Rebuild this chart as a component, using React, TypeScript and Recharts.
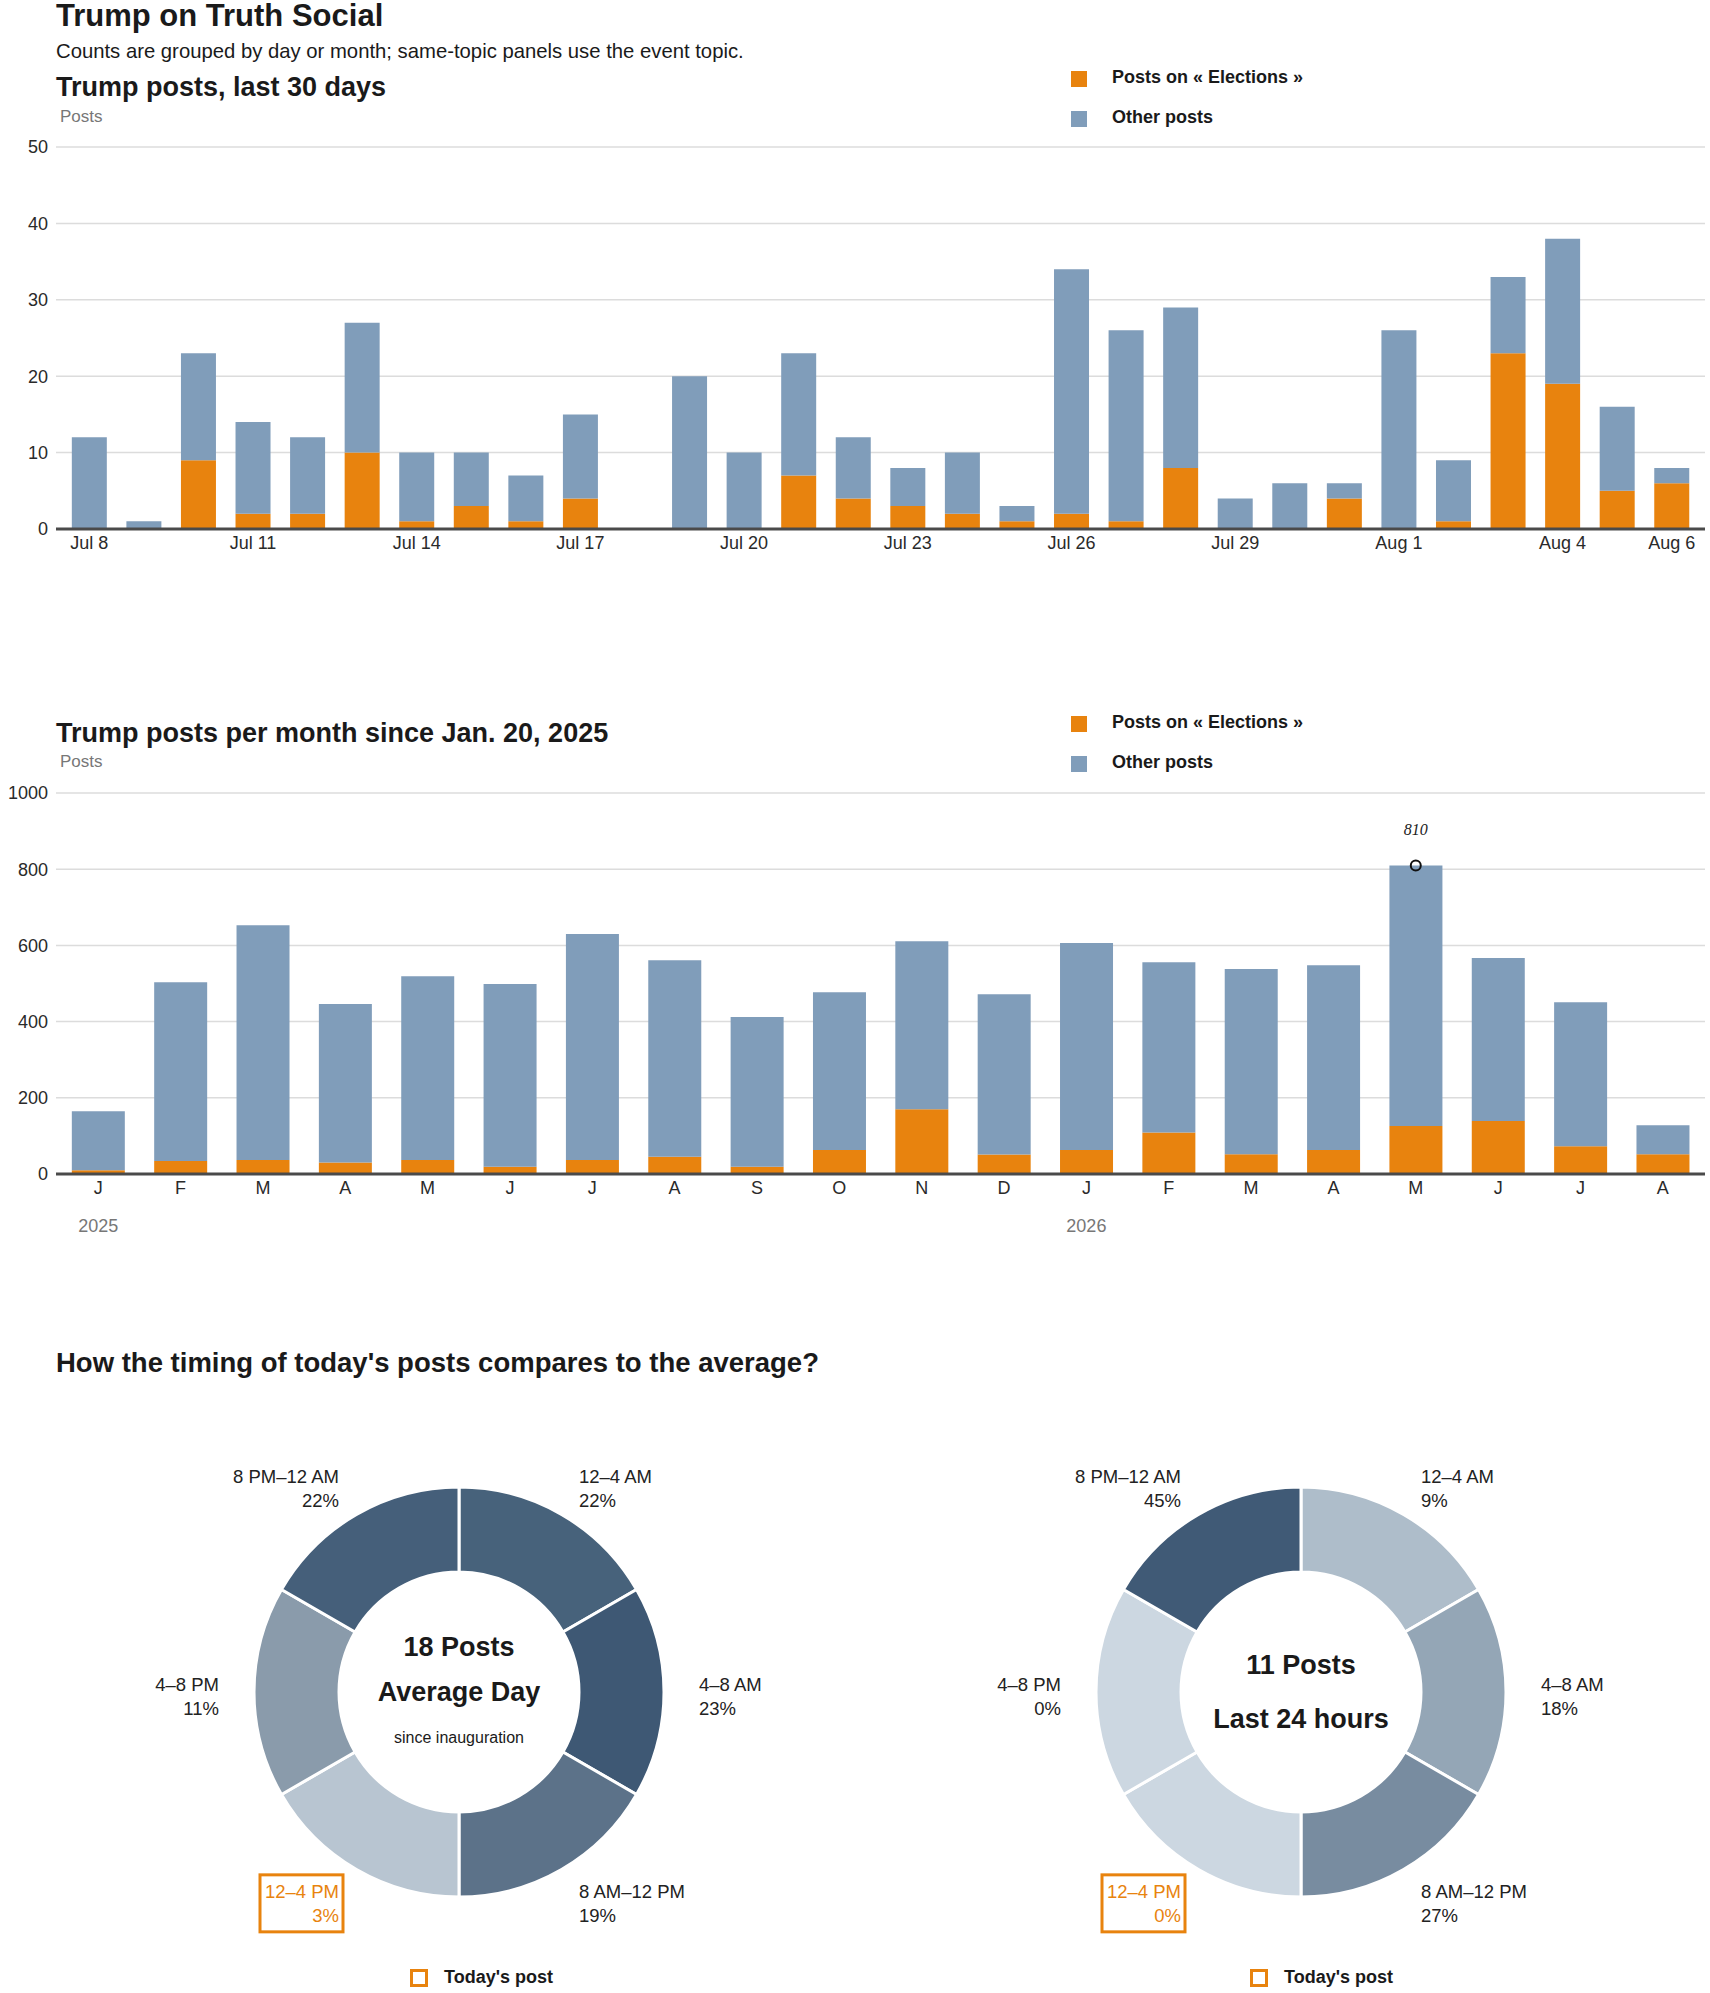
import React from 'react';
import {
  BarChart, Bar, XAxis, YAxis, CartesianGrid, ReferenceDot, PieChart, Pie, Cell,
} from 'recharts';

// last 30 days
const DAYS = [
  'Jul 8', 'Jul 9', 'Jul 10', 'Jul 11', 'Jul 12', 'Jul 13', 'Jul 14', 'Jul 15', 'Jul 16', 'Jul 17',
  'Jul 18', 'Jul 19', 'Jul 20', 'Jul 21', 'Jul 22', 'Jul 23', 'Jul 24', 'Jul 25', 'Jul 26', 'Jul 27',
  'Jul 28', 'Jul 29', 'Jul 30', 'Jul 31', 'Aug 1', 'Aug 2', 'Aug 3', 'Aug 4', 'Aug 5', 'Aug 6',
];
const DAY_ELECTIONS = [0, 0, 9, 2, 2, 10, 1, 3, 1, 4, 0, 0, 0, 7, 4, 3, 2, 1, 2, 1, 8, 0, 0, 4, 0, 1, 23, 19, 5, 6];
const DAY_OTHER = [12, 1, 14, 12, 10, 17, 9, 7, 6, 11, 0, 20, 10, 16, 8, 5, 8, 2, 32, 25, 21, 4, 6, 2, 26, 8, 10, 19, 11, 2];
const DAY_TICKS = ['Jul 8', 'Jul 11', 'Jul 14', 'Jul 17', 'Jul 20', 'Jul 23', 'Jul 26', 'Jul 29', 'Aug 1', 'Aug 4', 'Aug 6'];
const DAY_Y_TICKS = [0, 10, 20, 30, 40, 50];

// per month since inauguration
const MONTHS = [
  'Jan 2025', 'Feb 2025', 'Mar 2025', 'Apr 2025', 'May 2025', 'Jun 2025', 'Jul 2025', 'Aug 2025',
  'Sep 2025', 'Oct 2025', 'Nov 2025', 'Dec 2025', 'Jan 2026', 'Feb 2026', 'Mar 2026', 'Apr 2026',
  'May 2026', 'Jun 2026', 'Jul 2026', 'Aug 2026',
];
const MONTH_LETTERS = ['J', 'F', 'M', 'A', 'M', 'J', 'J', 'A', 'S', 'O', 'N', 'D', 'J', 'F', 'M', 'A', 'M', 'J', 'J', 'A'];
const MONTH_ELECTIONS = [10, 34, 37, 30, 37, 19, 37, 45, 19, 63, 170, 51, 63, 109, 52, 63, 126, 139, 73, 52];
const MONTH_OTHER = [155, 469, 616, 416, 482, 480, 593, 516, 393, 414, 441, 421, 543, 447, 486, 485, 684, 428, 378, 76];
const MONTH_Y_TICKS = [0, 200, 400, 600, 800, 1000];
const YEAR_STARTS = [
  { month: 'Jan 2025', label: '2025' },
  { month: 'Jan 2026', label: '2026' },
];
const PEAK_MONTH = 'May 2026';
const PEAK_VALUE = 810;

// timing donuts
const TIME_SLOTS = ['12–4 AM', '4–8 AM', '8 AM–12 PM', '12–4 PM', '4–8 PM', '8 PM–12 AM'];
const SLOT_HOURS = [4, 4, 4, 4, 4, 4];
const AVG_SHARE = [22, 23, 19, 3, 11, 22];
const TODAY_SHARE = [9, 18, 27, 0, 0, 45];
const CURRENT_SLOT = '12–4 PM';
const AVG_POSTS = 18;
const TODAY_POSTS = 11;

const AVG_COLORS = ['#47627b', '#3e5874', '#5c7289', '#b8c5d1', '#8a9bab', '#455f7a'];
const TODAY_COLORS = ['#aebdca', '#94a6b6', '#788ca0', '#ccd7e1', '#ccd7e1', '#405a76'];

const ORANGE = '#e8830e';
const BLUE = '#809dba';
const FONT = "'Liberation Sans', Arial, sans-serif";
const INK = '#1a1a1a';
const RADIAN = Math.PI / 180;

const dailyData = DAYS.map((day, i) => ({ day, elections: DAY_ELECTIONS[i], other: DAY_OTHER[i] }));
const monthlyData = MONTHS.map((month, i) => ({ month, elections: MONTH_ELECTIONS[i], other: MONTH_OTHER[i] }));
const avgData = TIME_SLOTS.map((slot, i) => ({ slot, hours: SLOT_HOURS[i], share: AVG_SHARE[i] }));
const todayData = TIME_SLOTS.map((slot, i) => ({ slot, hours: SLOT_HOURS[i], share: TODAY_SHARE[i] }));

function Txt({ x, y, size, weight = 400, color = INK, anchor = 'left', children, style }: any) {
  const tx = anchor === 'center' ? '-50%' : anchor === 'right' ? '-100%' : '0';
  return (
    <div
      style={{
        position: 'absolute', left: x, top: y, transform: `translate(${tx}, -50%)`,
        fontFamily: FONT, fontSize: size, fontWeight: weight, color, lineHeight: 1,
        whiteSpace: 'nowrap', ...style,
      }}
    >
      {children}
    </div>
  );
}

function SeriesLegend({ top }: { top: number }) {
  const items = [
    { label: 'Posts on « Elections »', color: ORANGE },
    { label: 'Other posts', color: BLUE },
  ];
  return (
    <>
      {items.map((it, i) => (
        <React.Fragment key={it.label}>
          <div style={{ position: 'absolute', left: 1071, top: top + i * 40 - 8, width: 16, height: 16, background: it.color }} />
          <Txt x={1112} y={top + i * 40 - 2} size={18} weight={700}>{it.label}</Txt>
        </React.Fragment>
      ))}
    </>
  );
}

function DayTick({ x, y, payload }: any) {
  return (
    <text x={x} y={y + 6} textAnchor="middle" dominantBaseline="central" fontFamily={FONT} fontSize={18} fill="#2a2a2a">
      {payload.value}
    </text>
  );
}

function MonthTick({ x, y, payload }: any) {
  const i = MONTHS.indexOf(payload.value);
  const year = YEAR_STARTS.find((d) => d.month === payload.value);
  return (
    <g>
      <text x={x} y={y + 6} textAnchor="middle" dominantBaseline="central" fontFamily={FONT} fontSize={18} fill="#2a2a2a">
        {MONTH_LETTERS[i]}
      </text>
      {year && (
        <text x={x} y={y + 44} textAnchor="middle" dominantBaseline="central" fontFamily={FONT} fontSize={18} fill="#777">
          {year.label}
        </text>
      )}
    </g>
  );
}

const yTick = { fontFamily: FONT, fontSize: 18, fill: '#2a2a2a' };

function slotLabel(shares: number[]) {
  return (props: any) => {
    const { cx, cy, midAngle, outerRadius, index } = props;
    const r = outerRadius + 35;
    const x = cx + r * Math.cos(-midAngle * RADIAN);
    const y = cy + r * Math.sin(-midAngle * RADIAN);
    const anchor = x > cx + 1 ? 'start' : x < cx - 1 ? 'end' : 'middle';
    const current = TIME_SLOTS[index] === CURRENT_SLOT;
    const color = current ? ORANGE : '#222';
    return (
      <g>
        {current && (
          <rect x={x - 79} y={y - 25} width={83} height={57} fill="none" stroke={ORANGE} strokeWidth={3} />
        )}
        <text x={x} y={y - 8} textAnchor={anchor} dominantBaseline="central" fontFamily={FONT} fontSize={18.5} fill={color}>
          {TIME_SLOTS[index]}
        </text>
        <text x={x} y={y + 16} textAnchor={anchor} dominantBaseline="central" fontFamily={FONT} fontSize={18.5} fill={color}>
          {`${shares[index]}%`}
        </text>
      </g>
    );
  };
}

function TodayKey({ x }: { x: number }) {
  return (
    <>
      <div style={{ position: 'absolute', left: x, top: 1969, width: 12, height: 12, border: `3px solid ${ORANGE}` }} />
      <Txt x={x + 34} y={1977} size={18} weight={700}>Today's post</Txt>
    </>
  );
}

export default function App() {
  return (
    <div style={{ position: 'absolute', left: 0, top: 0, width: 1710, height: 1993, background: '#fff' }}>
      <Txt x={56} y={15} size={31} weight={700}>Trump on Truth Social</Txt>
      <Txt x={56} y={51} size={20.3}>Counts are grouped by day or month; same-topic panels use the event topic.</Txt>

      {/* last 30 days */}
      <Txt x={56} y={87} size={27} weight={700}>Trump posts, last 30 days</Txt>
      <Txt x={60} y={116} size={17} color="#777">Posts</Txt>
      <SeriesLegend top={79} />
      <div style={{ position: 'absolute', left: 0, top: 0 }}>
        <BarChart width={1710} height={570} data={dailyData} margin={{ top: 147, right: 5, bottom: 0, left: 0 }} barCategoryGap="18%">
          <CartesianGrid vertical={false} stroke="#dcdcdc" strokeWidth={1.5} />
          <XAxis
            dataKey="day"
            ticks={DAY_TICKS}
            interval={0}
            tickLine={false}
            axisLine={{ stroke: '#4a4a4a', strokeWidth: 3 }}
            padding={{ left: 6, right: 6 }}
            height={41}
            tick={<DayTick />}
          />
          <YAxis domain={[0, 50]} ticks={DAY_Y_TICKS} width={56} axisLine={false} tickLine={false} tick={yTick} />
          <Bar dataKey="elections" stackId="a" fill={ORANGE} isAnimationActive={false} />
          <Bar dataKey="other" stackId="a" fill={BLUE} isAnimationActive={false} />
        </BarChart>
      </div>

      {/* per month */}
      <Txt x={56} y={733} size={27} weight={700}>Trump posts per month since Jan. 20, 2025</Txt>
      <Txt x={60} y={761} size={17} color="#777">Posts</Txt>
      <SeriesLegend top={724} />
      <div style={{ position: 'absolute', left: 0, top: 600 }}>
        <BarChart width={1710} height={644} data={monthlyData} margin={{ top: 193, right: 5, bottom: 0, left: 0 }} barCategoryGap="18%">
          <CartesianGrid vertical={false} stroke="#dcdcdc" strokeWidth={1.5} />
          <XAxis
            dataKey="month"
            interval={0}
            tickLine={false}
            axisLine={{ stroke: '#4a4a4a', strokeWidth: 3 }}
            padding={{ left: 1, right: 1 }}
            height={70}
            tick={<MonthTick />}
          />
          <YAxis domain={[0, 1000]} ticks={MONTH_Y_TICKS} width={56} axisLine={false} tickLine={false} tick={yTick} />
          <Bar dataKey="elections" stackId="a" fill={ORANGE} isAnimationActive={false} />
          <Bar dataKey="other" stackId="a" fill={BLUE} isAnimationActive={false} />
          <ReferenceDot
            x={PEAK_MONTH}
            y={PEAK_VALUE}
            r={5}
            fill="none"
            stroke="#111"
            strokeWidth={2}
            label={{
              value: String(PEAK_VALUE), position: 'top', offset: 25,
              fontFamily: "'Liberation Serif', serif", fontStyle: 'italic', fontSize: 16, fill: '#222',
            }}
          />
        </BarChart>
      </div>

      {/* timing */}
      <Txt x={56} y={1363} size={27.5} weight={700}>How the timing of today's posts compares to the average?</Txt>
      <div style={{ position: 'absolute', left: 0, top: 1380 }}>
        <PieChart width={1710} height={613} margin={{ top: 0, right: 0, bottom: 0, left: 0 }}>
          <Pie
            data={avgData}
            dataKey="hours"
            nameKey="slot"
            cx={459}
            cy={312}
            innerRadius={120}
            outerRadius={205}
            startAngle={90}
            endAngle={-270}
            stroke="#fff"
            strokeWidth={3}
            label={slotLabel(AVG_SHARE)}
            labelLine={false}
            isAnimationActive={false}
          >
            {avgData.map((d, i) => <Cell key={d.slot} fill={AVG_COLORS[i]} />)}
          </Pie>
          <Pie
            data={todayData}
            dataKey="hours"
            nameKey="slot"
            cx={1301}
            cy={312}
            innerRadius={120}
            outerRadius={205}
            startAngle={90}
            endAngle={-270}
            stroke="#fff"
            strokeWidth={3}
            label={slotLabel(TODAY_SHARE)}
            labelLine={false}
            isAnimationActive={false}
          >
            {todayData.map((d, i) => <Cell key={d.slot} fill={TODAY_COLORS[i]} />)}
          </Pie>
        </PieChart>
      </div>
      <Txt x={459} y={1647} size={27} weight={700} anchor="center">{`${AVG_POSTS} Posts`}</Txt>
      <Txt x={459} y={1692} size={27} weight={700} anchor="center">Average Day</Txt>
      <Txt x={459} y={1738} size={16} anchor="center">since inauguration</Txt>
      <Txt x={1301} y={1665} size={27} weight={700} anchor="center">{`${TODAY_POSTS} Posts`}</Txt>
      <Txt x={1301} y={1719} size={27} weight={700} anchor="center">Last 24 hours</Txt>
      <TodayKey x={410} />
      <TodayKey x={1250} />
    </div>
  );
}
